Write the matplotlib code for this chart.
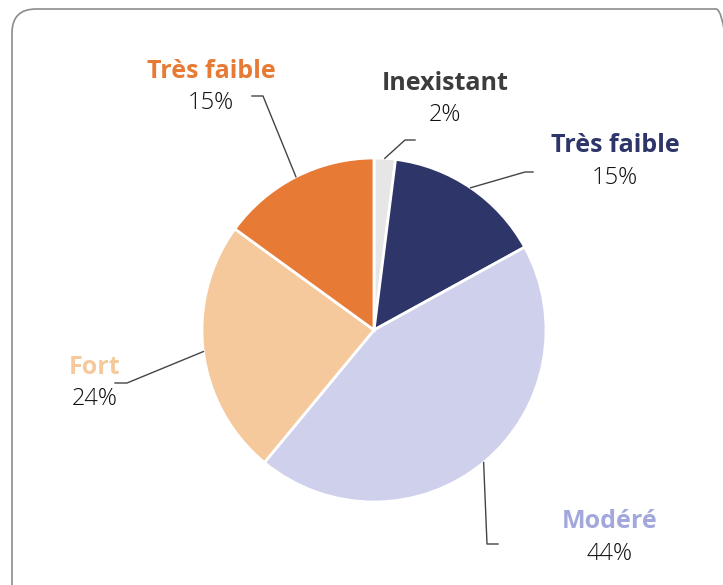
import numpy as np
import matplotlib.pyplot as plt
from matplotlib.patches import FancyBboxPatch

# data, clockwise from 12 o'clock
labels = ['Inexistant', 'Très faible', 'Modéré', 'Fort', 'Très faible']
values = [2, 15, 44, 24, 15]
colors = ['#e6e6e6', '#2e3568', '#cfd1ec', '#f5c99c', '#e77a35']
label_colors = ['#3c3c3c', '#2e3568', '#a3a8dc', '#f5c99c', '#e77a35']

W, H = 723, 585
cx, cy, r = 374, H - 330, 172

# text centre and leader line elbow/end for each slice (pixel coords, y from top)
text_pos = [(445, 83), (615, 146), (610, 522), (95, 367), (211, 71)]
elbows = [[(405, 140), (415, 140)],
          [(525, 172), (533, 172)],
          [(487, 544), (498, 544)],
          [(127, 383), (115, 383)],
          [(263, 96), (252, 96)]]

fig = plt.figure(figsize=(W / 100, H / 100), dpi=100)
ax = fig.add_axes([0, 0, 1, 1])

wedges, _ = ax.pie(values, colors=colors, startangle=90, counterclock=False,
                   center=(cx, cy), radius=r,
                   wedgeprops=dict(edgecolor='white', linewidth=2))
ax.set_xlim(0, W)
ax.set_ylim(0, H)
ax.axis('off')

box = FancyBboxPatch((12, -30), 728, H - 9 + 30, boxstyle='round,pad=0,rounding_size=24',
                     facecolor='none', edgecolor='#8c8c8c', linewidth=1.2)
ax.add_patch(box)

for w, lab, v, lc, (tx, ty), pts in zip(wedges, labels, values, label_colors, text_pos, elbows):
    a = np.deg2rad((w.theta1 + w.theta2) / 2)
    x0, y0 = cx + r * np.cos(a), cy + r * np.sin(a)
    xs = [x0] + [p[0] for p in pts]
    ys = [y0] + [H - p[1] for p in pts]
    ax.plot(xs, ys, color='#444444', linewidth=1)
    ax.text(tx, H - ty, lab, ha='center', va='center', color=lc,
            fontsize=18, fontweight='bold', family='Open Sans')
    ax.text(tx, H - ty - 32, f'{v}%', ha='center', va='center', color='#111111',
            fontsize=17, fontweight='light', family='Open Sans')

fig.savefig('out.png', dpi=100)
